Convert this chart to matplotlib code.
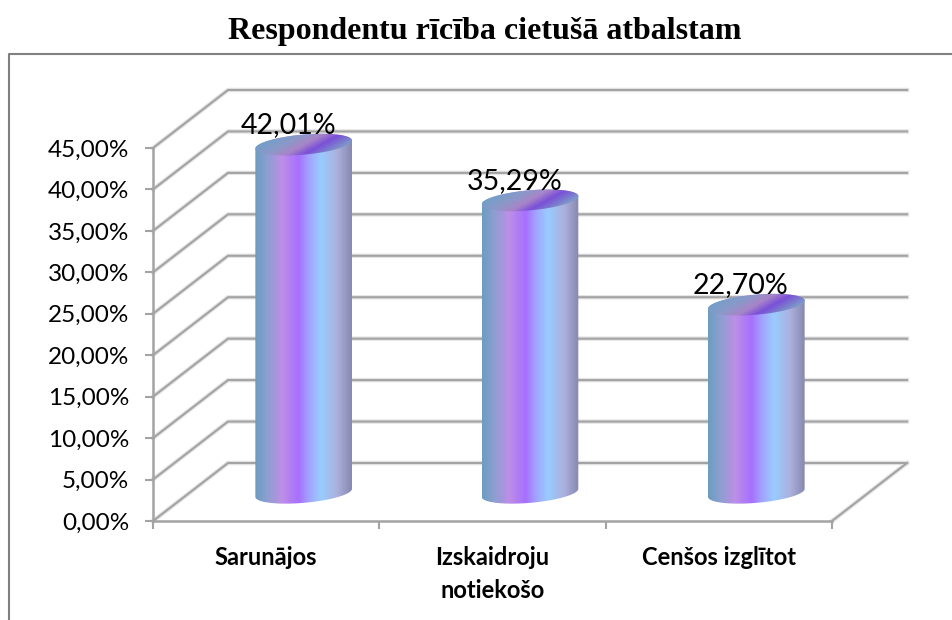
import matplotlib
matplotlib.use("Agg")
import matplotlib.pyplot as plt
import numpy as np
from matplotlib.colors import LinearSegmentedColormap
from matplotlib.lines import Line2D
from matplotlib.patches import Polygon

title = "Respondentu rīcība cietušā atbalstam"
categories = ["Sarunājos", "Izskaidroju\nnotiekošo", "Cenšos izglītot"]
values = [42.01, 35.29, 22.70]
value_labels = ["42,01%", "35,29%", "22,70%"]
y_ticks = [0, 5, 10, 15, 20, 25, 30, 35, 40, 45]
y_labels = ["0,00%", "5,00%", "10,00%", "15,00%", "20,00%", "25,00%",
            "30,00%", "35,00%", "40,00%", "45,00%"]

W, H = 952, 620
GRID = "#a3a3a3"

fig = plt.figure(figsize=(W/100, H/100), dpi=100)
ax = fig.add_axes([153/W, (H-521)/H, (832-153)/W, (521-148)/H])

# Size of one data unit in pixels, and the depth of the 3d box
px_x = (832-153)/3
px_y = (521-148)/45
depth_x = 75/px_x
depth_y = 58/px_y

# Frame of the chart area
fig.add_artist(Line2D([8.5/W, 8.5/W, 1], [0, (H-53.5)/H, (H-53.5)/H],
                      color="#808080", lw=1.5))

# Walls and floor
for y in y_ticks:
    xs = [0, depth_x, 3 + depth_x]
    ys = [y, y + depth_y, y + depth_y]
    ax.plot(xs, ys, color="#e4e4e4", lw=3.2, clip_on=False, zorder=1)
    ax.plot(xs, ys, color=GRID, lw=1.5, clip_on=False, zorder=1.1)
ax.plot([3, 3 + depth_x], [0, depth_y], color="#e4e4e4", lw=3.2, clip_on=False, zorder=1)
ax.plot([3, 3 + depth_x], [0, depth_y], color=GRID, lw=1.5, clip_on=False, zorder=1.1)

side_cmap = LinearSegmentedColormap.from_list("side", [
    (0.00, "#6c9cc0"), (0.12, "#8b9fd0"), (0.28, "#bd8fe6"), (0.45, "#a76fff"),
    (0.55, "#a3a0ff"), (0.68, "#99ccff"), (0.85, "#acb0dc"), (1.00, "#8688b0")])
top_cmap = LinearSegmentedColormap.from_list("top", [
    (0.00, "#6fa0c8"), (0.30, "#8c98c8"), (0.50, "#a884c8"), (0.68, "#7a50d8"),
    (0.80, "#7a70d0"), (1.00, "#80a8c8")])

a, b, tilt = 48.5, 10, np.radians(5)


def ellipse(cx, cy, t):
    ex = a*np.cos(t)*np.cos(tilt) - b*np.sin(t)*np.sin(tilt)
    ey = a*np.cos(t)*np.sin(tilt) + b*np.sin(t)*np.cos(tilt)
    return cx + ex/px_x, cy + ey/px_y


def clipped_image(data, cmap, extent, outline):
    patch = Polygon(outline, closed=True, facecolor="none", edgecolor="none",
                    transform=ax.transData, clip_on=False)
    ax.add_patch(patch)
    im = ax.imshow(data, cmap=cmap, extent=extent, aspect="auto", origin="lower",
                   vmin=0, vmax=1, interpolation="bilinear", zorder=3)
    im.set_clip_path(patch)
    # the first bar rises above the axes box
    im.set_clip_box(fig.bbox)


# Cylinders
for i, value in enumerate(values):
    cx = i + 0.5 + depth_x/2
    base = 3.4
    top = base + value

    t1 = np.linspace(np.pi, 2*np.pi, 60)
    t2 = np.linspace(0, np.pi, 60)
    bx, by = ellipse(cx, base, t1)
    tx, ty = ellipse(cx, top, t2)
    outline = np.column_stack([np.r_[bx, tx], np.r_[by, ty]])
    half = a/px_x
    clipped_image(np.linspace(0, 1, 256)[None, :], side_cmap,
                  [cx-half, cx+half, base-3, top+3], outline)

    t3 = np.linspace(0, 2*np.pi, 120)
    ex, ey = ellipse(cx, top, t3)
    gx = np.linspace(-a, a, 200)
    gy = np.linspace(-16, 16, 80)
    mx, my = np.meshgrid(gx, gy)
    u = np.clip((mx - 1.8*my)/(2*a) + 0.5, 0, 1)
    clipped_image(u, top_cmap,
                  [cx-half, cx+half, top-16/px_y, top+16/px_y],
                  np.column_stack([ex, ey]))

    ax.text(i + 0.597, value + 4.8, value_labels[i], ha="center", va="baseline",
            fontsize=20.5, family="Lato", color="black", zorder=5, clip_on=False)

ax.set_xlim(0, 3)
ax.set_ylim(0, 45)
ax.patch.set_alpha(0)

for side in ["top", "right"]:
    ax.spines[side].set_visible(False)
for side in ["left", "bottom"]:
    ax.spines[side].set_color(GRID)
    ax.spines[side].set_linewidth(1.8)

ax.set_yticks(y_ticks, y_labels, fontsize=17.5, family="Lato")
ax.set_xticks([0, 1, 2, 3], ["", "", "", ""])
ax.set_xticks([0.5, 1.5, 2.5], categories, minor=True, fontsize=17, family="Lato",
              fontweight="bold", linespacing=1.5, va="top")
ax.tick_params(axis="y", length=6, width=1.5, color=GRID, pad=11)
ax.tick_params(axis="x", which="major", length=6, width=1.5, color=GRID)
ax.tick_params(axis="x", which="minor", length=0, pad=18)

fig.text(485/W, (H-31)/H, title, ha="center", va="center", fontsize=23,
         family="Liberation Serif", fontweight="bold")

fig.savefig("out.png", dpi=100)
